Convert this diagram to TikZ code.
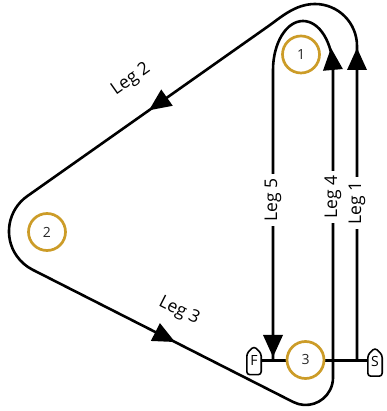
\documentclass[tikz,border=0pt]{standalone}
\usepackage{fontspec}
\setmainfont{Open Sans}
\definecolor{gold}{RGB}{204,156,40}
\definecolor{numgray}{RGB}{40,40,40}
\tikzset{
  pics/arrowhd/.style={code={\fill[black] (0pt,0pt) -- (-22pt,10pt) -- (-22pt,-10pt) -- cycle;}},
  course/.style={line width=2.6pt, line join=round, black},
  buoy/.style={circle, draw=gold, line width=2.7pt, fill=white, minimum size=37pt,
    inner sep=0pt, text=numgray, font=\fontsize{14}{14}\selectfont},
  leglabel/.style={font=\fontsize{17.5}{17.5}\selectfont, inner xsep=4pt, inner ysep=1pt, text=black},
  flagbox/.style={minimum width=14pt, minimum height=28pt, inner sep=0pt,
    font=\fontsize{14}{14}\selectfont},
  flagline/.style={line width=1.6pt, rounded corners=3pt, line join=round},
  startline/.style={line width=2.2pt}
}
\begin{document}
\begin{tikzpicture}[x=1pt,y=1pt]
\useasboundingbox (0,0) rectangle (386,411);
% course line
\coordinate (S1) at (357,51);
\coordinate (R1) at (357,365);
\coordinate (T2a) at (27.2,214.8);
\coordinate (B3) at (293.2,9.0);
\coordinate (L4) at (333,341);
\coordinate (F5) at (273,51);
\draw[course] (S1) -- (R1) arc[start angle=0,end angle=90,radius=42]
  .. controls (295,407) and (280.3,393.2) .. (268,384.6) -- (T2a)
  arc[start angle=125.18,end angle=243.07,radius=43] -- (B3)
  arc[start angle=243.07,end angle=360,radius=27.4] -- (L4)
  arc[x radius=30,y radius=49,start angle=0,end angle=180] -- (F5);
% arrowheads
\pic[rotate=90] at (357,363) {arrowhd};
\pic[rotate=95] at (331,363) {arrowhd};
\pic[rotate=-90] at (273,54) {arrowhd};
\pic[rotate=215.18] at (149,300.7) {arrowhd};
\pic[rotate=-26.93] at (175,69) {arrowhd};
% start / finish
\node[flagbox] (F) at (254,50.5) {F};
\node[flagbox] (S) at (375,49) {S};
\draw[flagline] (F.south west) -- ([yshift=-7pt]F.north west) -- (F.north) -- ([yshift=-7pt]F.north east) -- (F.south east) -- cycle;
\draw[flagline] (S.south west) -- ([yshift=-7pt]S.north west) -- (S.north) -- ([yshift=-7pt]S.north east) -- (S.south east) -- cycle;
\draw[startline] (F.east) -- (F.east -| S.west);
% marks
\node[buoy] (b1) at (301,356.5) {1};
\node[buoy] (b2) at (47,179) {2};
\node[buoy] (b3) at (305.5,51) {3};
% labels
\node[leglabel, rotate=90, fill=white] (l5) at (273,211) {Leg 5};
\node[leglabel, rotate=90, fill=white] (l4) at (333,214) {Leg 4};
\node[leglabel, rotate=90, fill=white] (l1) at (357,208) {Leg 1};
\node[leglabel, rotate=35.18] (l2) at (131,331) {Leg 2};
\node[leglabel, rotate=-26.93] (l3) at (179,100) {Leg 3};
\end{tikzpicture}
\end{document}
